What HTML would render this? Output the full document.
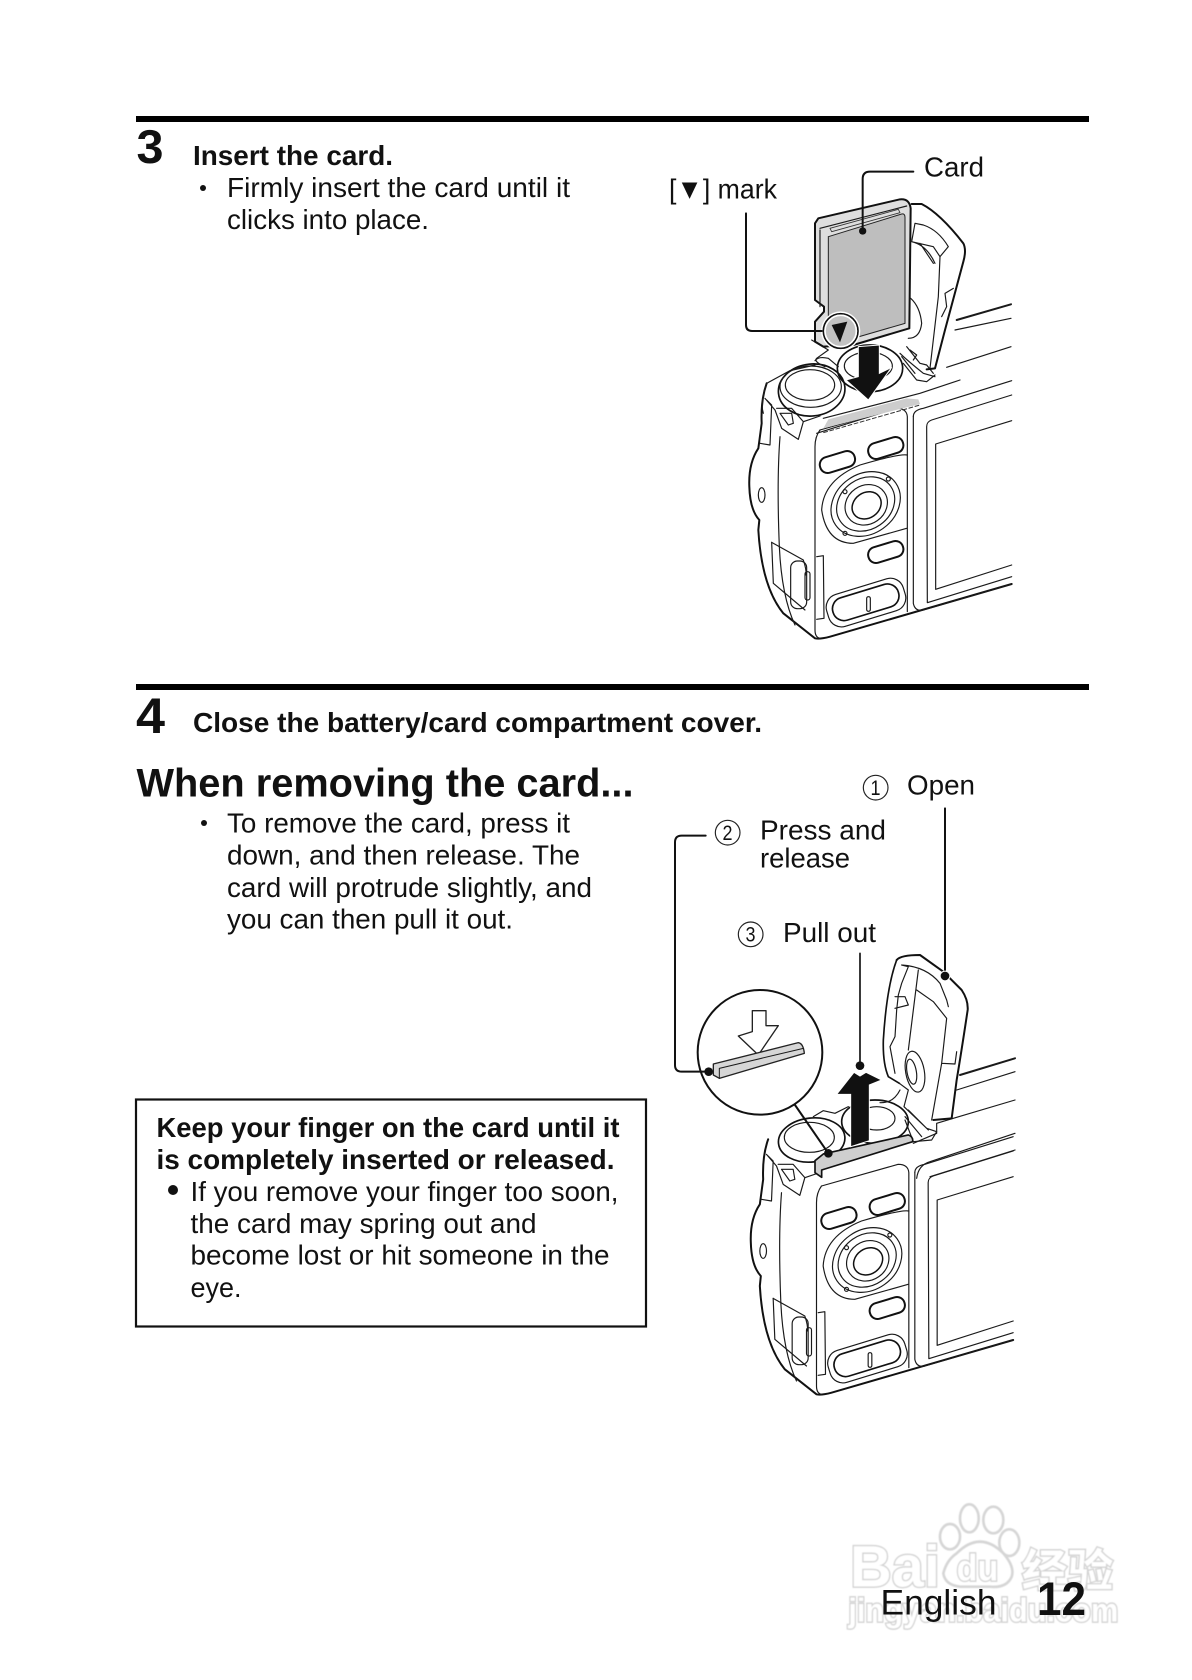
<!DOCTYPE html>
<html lang="en"><head><meta charset="utf-8"><title>Insert the card</title>
<style>
html,body{margin:0;padding:0;background:#fff}
svg{display:block}
text{font-family:"Liberation Sans","Noto Sans CJK SC",sans-serif;fill:#111}
.b{font-weight:bold}
.t{font-size:28px}
.ln{fill:none;stroke:#1a1a1a;stroke-width:3.5;stroke-linejoin:round;stroke-linecap:round}
.th{fill:none;stroke:#111;stroke-width:6;stroke-linejoin:round;stroke-linecap:round}
.thin{fill:none;stroke:#333;stroke-width:2.5;stroke-linejoin:round;stroke-linecap:round}
.wm text{fill:#fff;stroke:#d2d2d2;stroke-width:8;font-weight:bold;paint-order:stroke}
.wm .p{fill:#fff;stroke:#d6d6d6;stroke-width:8}
</style></head><body>
<svg width="1192" height="1680" viewBox="0 0 1192 1680" xmlns="http://www.w3.org/2000/svg">
<rect width="1192" height="1680" fill="#fff"/>

<!-- watermark -->
<defs><filter id="bl"><feGaussianBlur stdDeviation="1.6"/></filter></defs>
<g class="wm" transform="translate(840,1490) scale(.33333)" filter="url(#bl)">
<ellipse class="p" cx="388" cy="85" rx="28" ry="42"/><ellipse class="p" cx="460" cy="90" rx="30" ry="40"/>
<ellipse class="p" cx="330" cy="140" rx="30" ry="38"/><ellipse class="p" cx="508" cy="158" rx="30" ry="40"/>
<path class="p" d="M310,250Q320,210 350,190Q420,120 490,190Q525,230 515,260Q500,295 450,290L360,290Q315,285 310,250Z"/>
<text x="30" y="290" font-size="175" textLength="270" lengthAdjust="spacingAndGlyphs">Bai</text>
<text x="350" y="272" font-size="110" textLength="125" lengthAdjust="spacingAndGlyphs">du</text>
<text x="545" y="290" font-size="135" textLength="275" lengthAdjust="spacingAndGlyphs">经验</text>
<text x="25" y="395" font-size="100" textLength="810" lengthAdjust="spacingAndGlyphs">jingyan.baidu.com</text>
</g>

<!-- rules -->
<rect x="136" y="116" width="953" height="6" fill="#000"/>
<rect x="136" y="684" width="953" height="6" fill="#000"/>

<!-- left text -->
<text class="b" x="136.5" y="163" font-size="47" textLength="27" lengthAdjust="spacingAndGlyphs">3</text>
<text class="b t" x="193" y="165" textLength="200" lengthAdjust="spacingAndGlyphs">Insert the card.</text>
<circle cx="203" cy="188" r="3" fill="#111"/>
<text class="t" x="227" y="197" textLength="343" lengthAdjust="spacingAndGlyphs">Firmly insert the card until it</text>
<text class="t" x="227" y="229" textLength="202" lengthAdjust="spacingAndGlyphs">clicks into place.</text>

<text class="b" x="136" y="733" font-size="50" textLength="29" lengthAdjust="spacingAndGlyphs">4</text>
<text class="b t" x="193" y="732" textLength="569" lengthAdjust="spacingAndGlyphs">Close the battery/card compartment cover.</text>
<text class="b" x="136.5" y="796.5" font-size="40" textLength="497" lengthAdjust="spacingAndGlyphs">When removing the card...</text>
<circle cx="204" cy="823" r="3" fill="#111"/>
<text class="t" x="227" y="832.5" textLength="343" lengthAdjust="spacingAndGlyphs">To remove the card, press it</text>
<text class="t" x="227" y="864.5" textLength="353" lengthAdjust="spacingAndGlyphs">down, and then release. The</text>
<text class="t" x="227" y="897" textLength="365" lengthAdjust="spacingAndGlyphs">card will protrude slightly, and</text>
<text class="t" x="227" y="928.5" textLength="286" lengthAdjust="spacingAndGlyphs">you can then pull it out.</text>

<rect x="136" y="1099.5" width="510" height="227" fill="none" stroke="#111" stroke-width="2.2"/>
<text class="b t" x="156.5" y="1137" textLength="463" lengthAdjust="spacingAndGlyphs">Keep your finger on the card until it</text>
<text class="b t" x="156.5" y="1169" textLength="458" lengthAdjust="spacingAndGlyphs">is completely inserted or released.</text>
<circle cx="173" cy="1190" r="5" fill="#111"/>
<text class="t" x="190.5" y="1201" textLength="428" lengthAdjust="spacingAndGlyphs">If you remove your finger too soon,</text>
<text class="t" x="190.5" y="1233" textLength="346" lengthAdjust="spacingAndGlyphs">the card may spring out and</text>
<text class="t" x="190.5" y="1264.5" textLength="419" lengthAdjust="spacingAndGlyphs">become lost or hit someone in the</text>
<text class="t" x="190.5" y="1297" textLength="51" lengthAdjust="spacingAndGlyphs">eye.</text>

<!-- footer -->
<text x="880.5" y="1614.5" font-size="35" textLength="116" lengthAdjust="spacingAndGlyphs">English</text>
<text class="b" x="1037" y="1615" font-size="47" textLength="49" lengthAdjust="spacingAndGlyphs">12</text>

<!-- shared camera body -->
<g transform="translate(720,380) scale(.33333)" id="cam">
<path class="th" d="M140,10Q122,60 125,130L115,205Q85,250 88,320Q90,390 118,420L115,450Q125,620 190,700L285,775Q300,778 330,770L875,612"/>
<ellipse class="ln" cx="125" cy="345" rx="10" ry="22"/>
<path class="ln" d="M180,170Q170,300 178,500Q185,650 225,735"/>
<path class="ln" d="M140,60L155,75L150,195L120,190M135,55L165,90L185,145L235,178L250,125L300,108M170,85L215,85L250,125M180,100L205,135L220,130L215,100Z"/>
<path class="ln" d="M300,150Q285,170 285,200L285,750Q285,772 300,775"/>
<path class="ln" d="M300,150L530,85Q560,85 562,110L562,695"/>
<path class="ln" d="M580,110Q580,90 610,85L875,2"/>
<path class="ln" d="M580,110L580,670Q585,695 610,690L875,612"/>
<path class="ln" d="M875,45L635,120Q620,125 620,140L622,668L875,590"/>
<path class="ln" d="M875,122L647,192L647,628L875,555"/>
<g transform="rotate(-17 352 245)"><rect class="th" x="298" y="222" width="108" height="48" rx="23"/></g>
<g transform="rotate(-17 497 203)"><rect class="th" x="443" y="180" width="108" height="48" rx="23"/></g>
<g transform="rotate(-17 497 515)"><rect class="th" x="443" y="492" width="108" height="48" rx="23"/></g>
<path class="ln" d="M562,225Q540,220 420,255Q310,300 305,390Q320,490 400,490L560,445"/>
<g transform="rotate(-35 437 372)">
<ellipse class="ln" cx="437" cy="372" rx="110" ry="90" stroke-width="5"/>
<ellipse class="ln" cx="437" cy="372" rx="92" ry="76"/>
<ellipse class="ln" cx="437" cy="375" rx="66" ry="58"/>
<ellipse class="th" cx="437" cy="377" rx="46" ry="38" style="stroke-width:4.5"/>
</g>
<circle class="ln" cx="375" cy="335" r="6" fill="#fff"/><circle class="ln" cx="505" cy="297" r="6"/><circle class="ln" cx="375" cy="460" r="6"/>
<g transform="rotate(-17 437 668)">
<rect class="ln" x="318" y="618" width="240" height="100" rx="40"/>
<rect class="th" x="335" y="632" width="205" height="70" rx="34" style="stroke-width:5"/>
</g>
<rect class="ln" x="440" y="650" width="11" height="44" rx="5"/>
<path class="ln" d="M155,487L160,610L255,690"/>
<path class="ln" d="M155,487L250,540Q260,570 258,585"/>
<rect class="ln" x="212" y="543" width="48" height="143" rx="20"/>
<rect class="ln" x="255" y="575" width="15" height="85" rx="7"/>
<path class="ln" d="M290,530L310,527L312,715L290,718"/>
</g>
<use href="#cam" transform="translate(1.5,756)"/>

<!-- upper camera: dials & card -->
<g transform="translate(760,330) scale(.33333)">
<path class="ln" d="M20,160L90,122L165,105M20,160Q0,220 10,250"/>
<ellipse class="th" cx="155" cy="180" rx="100" ry="78" transform="rotate(-6 155 180)" style="stroke-width:5"/>
<ellipse class="ln" cx="152" cy="170" rx="92" ry="62"/>
<ellipse class="ln" cx="150" cy="165" rx="74" ry="46"/>
<ellipse class="th" cx="330" cy="115" rx="98" ry="70" style="stroke-width:5"/>
<ellipse class="ln" cx="325" cy="108" rx="72" ry="42"/>
<path class="ln" d="M165,92Q175,78 205,85L235,110"/>
<path class="ln" d="M170,310L440,225M190,265L480,190L600,150"/>
<path d="M205,268L440,205L475,208L480,222L190,295Z" fill="#cdcdcd"/>
<path d="M190,308L480,225" stroke="#333" stroke-width="3" stroke-dasharray="14 5" fill="none"/>
<polygon points="295,50 358,45 358,130 395,112 325,210 258,150 295,140" fill="#111" stroke="#fff" stroke-width="3"/>
<path class="ln" d="M420,70Q440,90 490,130L525,140"/>
<path class="ln" d="M440,50L480,100L500,105L520,130M425,80L465,130M430,100L470,150L500,155L525,135M450,60L470,75L460,90"/>
<path class="ln" d="M155,30L205,60L170,85Q160,95 195,110"/>
</g>
<g transform="translate(640,130) scale(.33333)">
<path class="ln" d="M950,570L1113,523" style="stroke-width:6"/>
<path class="ln" d="M945,600L1113,565"/>
<path class="ln" d="M920,712L1113,650"/>
<path class="th" d="M815,222L845,222Q900,250 970,340Q980,360 970,395L915,600L885,715L860,718" style="stroke-width:6"/>
<path class="ln" d="M825,280L815,335L880,350L900,380L925,350Q895,300 850,285ZM900,380L895,500L870,715M940,475L915,490L920,530L905,560M840,340L880,400M815,335Q860,345 885,400"/>
<path class="ln" d="M812,505Q840,530 845,580Q840,625 805,625"/>
<path class="th" d="M525,280L535,265L780,208Q808,205 812,235L808,595L640,645L550,650L525,635L525,575L552,545L552,530L525,510Z" style="fill:#dedede"/>
<path class="ln" d="M540,300L540,530M540,295L800,228"/>
<path d="M565,320L785,252Q795,250 795,262L795,580L650,622L565,640Z" fill="#bebebe" stroke="#222" stroke-width="3"/>
<path class="thin" d="M570,295L775,238L780,248L575,305Z"/>
<circle cx="602" cy="603" r="59" fill="#fff"/>
<circle cx="602" cy="603" r="52" fill="#bdbdbd" stroke="#111" stroke-width="5"/>
<circle cx="602" cy="603" r="47" fill="#c2c2c2" stroke="#fff" stroke-width="5"/>
<polygon points="575,585 622,575 600,637" fill="#111"/>
<path class="th" d="M820,125L690,125Q668,125 668,147L668,303"/>
<circle cx="668" cy="303" r="11" fill="#111"/>
<path class="th" d="M318,250L318,585Q318,603 336,603L545,603"/>
</g>
<text x="924" y="176.5" font-size="28" textLength="60" lengthAdjust="spacingAndGlyphs">Card</text>
<text x="669" y="198.5" font-size="28" textLength="108" lengthAdjust="spacingAndGlyphs">[▼] mark</text>

<!-- lower diagram -->
<g transform="translate(780,940) scale(.33333)">
<ellipse class="th" cx="95" cy="600" rx="100" ry="66" style="stroke-width:5" transform="rotate(-6 95 600)"/>
<ellipse class="ln" cx="88" cy="592" rx="75" ry="45"/>
<ellipse class="th" cx="285" cy="545" rx="100" ry="65" style="stroke-width:5"/>
<ellipse class="ln" cx="290" cy="535" rx="55" ry="35"/>
<path class="ln" d="M100,530L130,512L165,520L205,500"/>
<path class="ln" d="M540,405L705,355" style="stroke-width:6"/>
<path class="ln" d="M530,450L705,395"/>
<path class="ln" d="M520,535L470,550L470,580L400,610M520,535L705,480"/>
<path class="ln" d="M410,715Q415,675 450,665L705,580"/>
<path class="ln" d="M450,710L705,630"/>
<path class="th" d="M350,60Q362,45 420,45L490,95L545,150Q565,180 563,210Q545,330 530,420L515,535L460,540"/>
<path class="th" d="M350,60Q320,140 310,300Q308,370 325,410L358,430" style="stroke-width:5"/>
<path class="ln" d="M365,75L385,80L365,130L355,165L350,210L345,290L330,320L345,400M415,90L385,330M365,75Q440,80 480,130L500,180L505,200M410,150L460,185L500,235L485,370L525,372L530,335M485,370L455,540M345,170L375,170L385,195L345,205"/>
<ellipse class="ln" cx="405" cy="395" rx="28" ry="62" transform="rotate(-10 405 395)"/>
<ellipse class="ln" cx="395" cy="395" rx="14" ry="38" transform="rotate(-10 395 395)"/>
<path class="ln" d="M358,430L385,450L372,500L440,565L470,575L455,600L400,605L375,540M300,488Q340,490 360,450M385,510L445,570M375,530L425,590"/>
<path d="M105,662L130,642L385,585Q400,590 398,605L125,690L125,712L105,698Z" fill="#cfcfcf" stroke="#111" stroke-width="5" stroke-linejoin="round"/>
<polygon points="170,463 222,397 240,408 258,397 305,420 268,435 268,602 212,620 212,463" fill="#111" stroke="#fff" stroke-width="3"/>
</g>
<g transform="translate(660,760) scale(.33333)">
<circle cx="300" cy="877" r="187" fill="#fff" stroke="#111" stroke-width="6"/>
<path class="th" d="M405,1035L505,1180" style="stroke-width:6"/>
<circle cx="505" cy="1180" r="13" fill="#111"/>
<polygon points="277,752 318,752 318,797 355,797 295,885 235,828 277,815" fill="#fff" stroke="#222" stroke-width="4" stroke-linejoin="round"/>
<path d="M160,912L415,848Q430,850 433,880L178,955L160,945Z" fill="#d6d6d6" stroke="#222" stroke-width="4" stroke-linejoin="round"/>
<path class="ln" d="M178,925L430,865M178,925L178,955" style="stroke-width:3"/>
<path class="th" d="M137,227L65,227Q45,227 45,247L45,915Q45,935 65,935L145,935"/>
<circle cx="146" cy="935" r="13" fill="#111"/>
<path class="th" d="M600,580L600,917" style="stroke-width:5"/>
<circle cx="600" cy="917" r="13" fill="#111"/>
<path class="th" d="M855,145L855,648" style="stroke-width:6"/>
<circle cx="855" cy="648" r="16" fill="#fff"/>
<circle cx="855" cy="648" r="13" fill="#111"/>
<circle cx="647" cy="83" r="37" fill="none" stroke="#222" stroke-width="3.5"/>
<circle cx="203" cy="218" r="37" fill="none" stroke="#222" stroke-width="3.5"/>
<circle cx="272" cy="523" r="37" fill="none" stroke="#222" stroke-width="3.5"/>
</g>
<text x="870.5" y="795" font-size="21" textLength="10" lengthAdjust="spacingAndGlyphs">1</text>
<text x="722.5" y="840" font-size="21" textLength="10" lengthAdjust="spacingAndGlyphs">2</text>
<text x="745.5" y="941.5" font-size="21" textLength="10" lengthAdjust="spacingAndGlyphs">3</text>
<text x="907" y="794.5" font-size="28" textLength="68" lengthAdjust="spacingAndGlyphs">Open</text>
<text x="760" y="839.5" font-size="28" textLength="126" lengthAdjust="spacingAndGlyphs">Press and</text>
<text x="760" y="867.5" font-size="28" textLength="90" lengthAdjust="spacingAndGlyphs">release</text>
<text x="783" y="942" font-size="28" textLength="93" lengthAdjust="spacingAndGlyphs">Pull out</text>
</svg>
</body></html>
